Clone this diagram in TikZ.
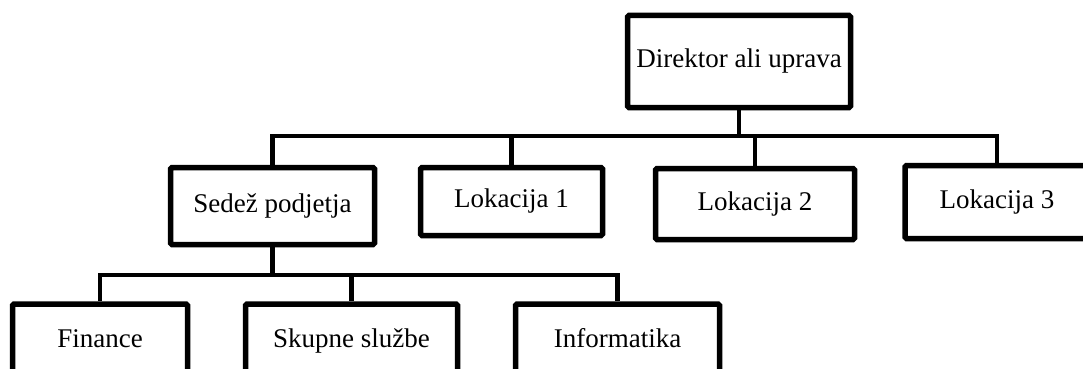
\documentclass[tikz,border=0pt]{standalone}
\usepackage{fontspec}
\setmainfont{Liberation Serif}
\usepackage{tikz}

\begin{document}
\begin{tikzpicture}[x=1pt,y=-1pt,
		unit/.style={draw,line width=5.5pt,rounded corners=1.5pt,inner sep=0pt,
			text height=18pt,text depth=6pt,
			font=\fontsize{27}{32}\selectfont},
		link/.style={line width=4.5pt}]
	\useasboundingbox (0,0) rectangle (1083,369);
	\clip (0,0) rectangle (1083,369);
	% top
	\node[unit,minimum width=223pt,minimum height=92pt] (dir) at (739,61.5) {Direktor ali uprava};
	% second level
	\node[unit,minimum width=204pt,minimum height=77pt] (sed) at (272.5,206) {Sedež podjetja};
	\node[unit,minimum width=182pt,minimum height=68pt] (lok1) at (511.5,201.5) {Lokacija 1};
	\node[unit,minimum width=199pt,minimum height=71pt] (lok2) at (755,204) {Lokacija 2};
	\node[unit,minimum width=184pt,minimum height=73pt] (lok3) at (997,202) {Lokacija 3};
	% third level
	\node[unit,minimum width=175pt,minimum height=74pt] (fin) at (100,341) {Finance};
	\node[unit,minimum width=212pt,minimum height=74pt] (skup) at (351.5,341) {Skupne službe};
	\node[unit,minimum width=204pt,minimum height=74pt] (inf) at (617.5,341) {Informatika};
	% connectors
	\coordinate (topbar) at (0,136);
	\coordinate (lowbar) at (0,275);
	\foreach \n in {sed,lok1,lok2,lok3}
		\draw[link] (dir.south) -- (dir.south |- topbar) -| (\n.north);
	\foreach \n in {fin,skup,inf}
		\draw[link] (sed.south) -- (sed.south |- lowbar) -| (\n.north);
\end{tikzpicture}
\end{document}
